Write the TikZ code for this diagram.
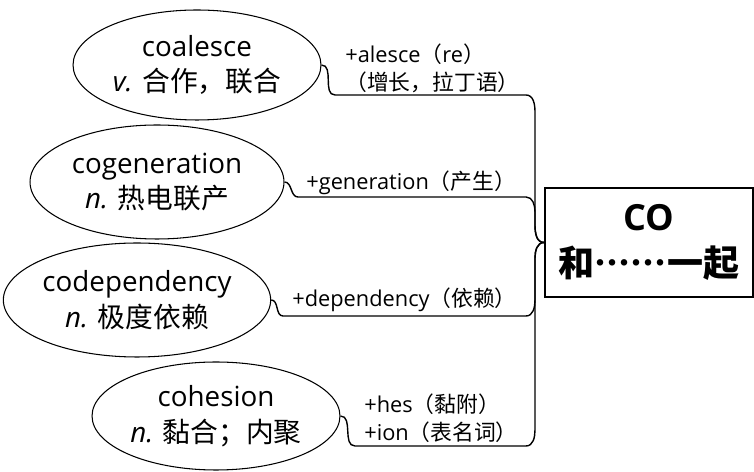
\documentclass[tikz,border=0pt]{standalone}
\usepackage{fontspec}
\setmainfont{Open Sans}
\newfontfamily\cjk[Script=CJK, Language=Chinese Simplified]{Noto Sans CJK SC}
\newcommand{\zh}[1]{{\cjk #1}}
\usetikzlibrary{shapes.geometric}

\begin{document}
\begin{tikzpicture}[
    x=0.02cm, y=-0.02cm,
    word/.style={draw, ellipse, line width=0.6pt, inner sep=0pt, align=center,
                 font=\fontsize{15.8}{20.4}\selectfont},
    root/.style={draw, line width=1.2pt, minimum width=4.16cm, minimum height=2.18cm,
                 align=center, font=\fontsize{20.5}{26.6}\selectfont\bfseries},
    part/.style={anchor=west, align=left, inner sep=0pt,
                 font=\fontsize{12.4}{15.8}\selectfont},
    link/.style={line width=0.8pt},
  ]
  \useasboundingbox (0,0) rectangle (754,472);

  \node[root] (co) at (649,242.5) {CO\\\zh{和……一起}};

  \node[word, minimum width=4.96cm, minimum height=2.2cm] (coalesce) at (197,65)
    {coalesce\\\textit{v.} \zh{合作，联合}};
  \node[word, minimum width=5.08cm, minimum height=2.28cm] (cogen) at (157,182)
    {cogeneration\\\textit{n.} \zh{热电联产}};
  \node[word, minimum width=5.2cm, minimum height=2.28cm] (codep) at (137,300)
    {codependency\\\textit{n.} \zh{极度依赖}};
  \node[word, minimum width=4.96cm, minimum height=2.16cm] (cohesion) at (216,416)
    {cohesion\\\textit{n.} \zh{黏合；内聚}};

  \node[part] (alesce) at (345,68) {+alesce\zh{（}re\zh{）}\\\zh{（增长，拉丁语）}};
  \node[part] (generation) at (306,183) {+generation\zh{（产生）}};
  \node[part] (dependency) at (292,300) {+dependency\zh{（依赖）}};
  \node[part] (hes) at (364,418) {+hes\zh{（黏附）}\\+ion\zh{（表名词）}};

  \draw[link] (coalesce.east) to[out=0, in=180] (335,95) -- (526,95)
    to[out=0, in=90] (535,112) -- (535,225) to[out=-90, in=180] (co.west);
  \draw[link] (cogen.east) to[out=0, in=180] (298,197) -- (526,197)
    to[out=0, in=90] (535,212) -- (535,225) to[out=-90, in=180] (co.west);
  \draw[link] (codep.east) to[out=0, in=180] (283,316) -- (526,316)
    to[out=0, in=-90] (535,300) -- (535,258) to[out=90, in=180] (co.west);
  \draw[link] (cohesion.east) to[out=0, in=180] (355,446) -- (526,446)
    to[out=0, in=-90] (535,430) -- (535,258) to[out=90, in=180] (co.west);

\end{tikzpicture}
\end{document}
